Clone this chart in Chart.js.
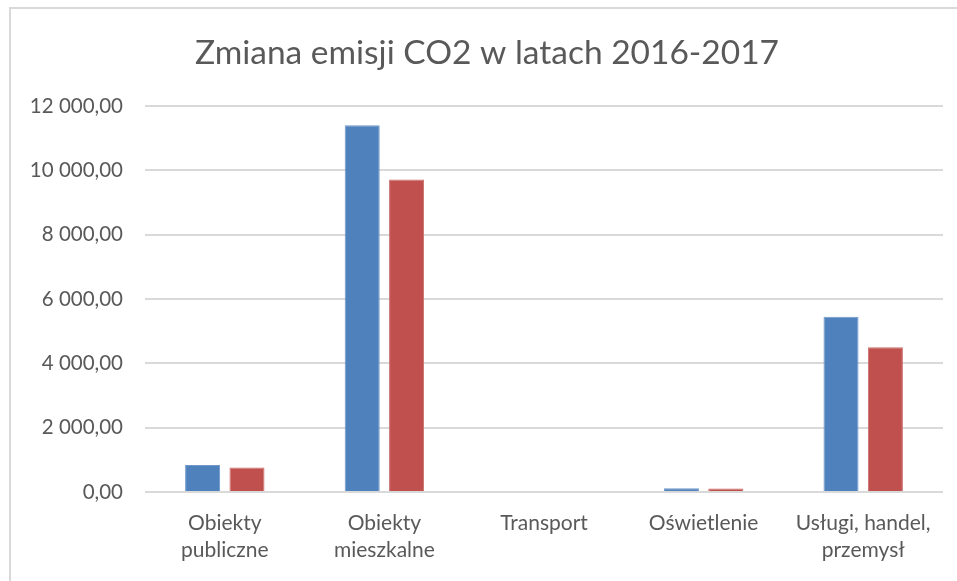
<!DOCTYPE html>
<html>
<head>
<meta charset="utf-8">
<script src="https://cdn.jsdelivr.net/npm/chart.js@4"></script>
<style>
    body { margin: 0; background: #fff; }
    #wrap {
        position: absolute;
        left: 9px;
        top: 7px;
        width: 948px;
        height: 574px;
        border-left: 2px solid #D9D9D9;
        border-top: 2px solid #D9D9D9;
    }
</style>
</head>
<body>
<div id="wrap"><canvas id="co2Chart" width="946" height="572"></canvas></div>
<script>
// ─────────────────────────────
// DATA
// ─────────────────────────────
const categories = [
    ["Obiekty", "publiczne"],
    ["Obiekty", "mieszkalne"],
    "Transport",
    "Oświetlenie",
    ["Usługi, handel,", "przemysł"]
];
const emisja2016 = [840, 11410, 0, 115, 5450];
const emisja2017 = [760, 9720, 0, 110, 4500];
const yTicks = [0, 2000, 4000, 6000, 8000, 10000, 12000];

// 12000 -> "12 000,00"
function plNumber(v) {
    const parts = v.toFixed(2).split(".");
    parts[0] = parts[0].replace(/\B(?=(\d{3})+(?!\d))/g, " ");
    return parts.join(",");
}

const textColor = "#595959";
const fontFamily = "Lato, 'Noto Sans', sans-serif";

new Chart(document.getElementById("co2Chart"), {
    type: "bar",
    data: {
        labels: categories,
        datasets: [
            {
                label: "2016",
                data: emisja2016,
                backgroundColor: "#4F81BD",
                borderColor: "#6F98CA",
                borderWidth: 1,
                categoryPercentage: 0.556,
                barPercentage: 0.79
            },
            {
                label: "2017",
                data: emisja2017,
                backgroundColor: "#C0504D",
                borderColor: "#CC6D6A",
                borderWidth: 1,
                categoryPercentage: 0.556,
                barPercentage: 0.79
            }
        ]
    },
    options: {
        responsive: false,
        animation: false,
        // left padding shifts the centred title to the right, y axis width compensates
        layout: { padding: { left: 20, right: 14, top: 0, bottom: 0 } },
        plugins: {
            legend: { display: false },
            tooltip: { enabled: false },
            title: {
                display: true,
                text: "Zmiana emisji CO2 w latach 2016-2017",
                color: textColor,
                font: { family: fontFamily, size: 33.5, weight: "normal", lineHeight: 1.2 },
                padding: { top: 24, bottom: 33 }
            }
        },
        scales: {
            x: {
                grid: { display: false },
                border: { display: false },
                ticks: {
                    color: textColor,
                    font: { family: fontFamily, size: 21, lineHeight: 1.29 },
                    padding: 10,
                    maxRotation: 0,
                    autoSkip: false
                },
                afterFit: (scale) => { scale.height = 89; }
            },
            y: {
                min: 0,
                max: 12000,
                afterBuildTicks: (scale) => {
                    scale.ticks = yTicks.map(v => ({ value: v }));
                },
                grid: { color: "#D9D9D9", lineWidth: 2, drawTicks: false },
                border: { display: false },
                ticks: {
                    color: textColor,
                    font: { family: fontFamily, size: 20.5 },
                    padding: 22,
                    callback: (v) => plNumber(v)
                },
                afterFit: (scale) => { scale.width = 114; }
            }
        }
    }
});
</script>
</body>
</html>
